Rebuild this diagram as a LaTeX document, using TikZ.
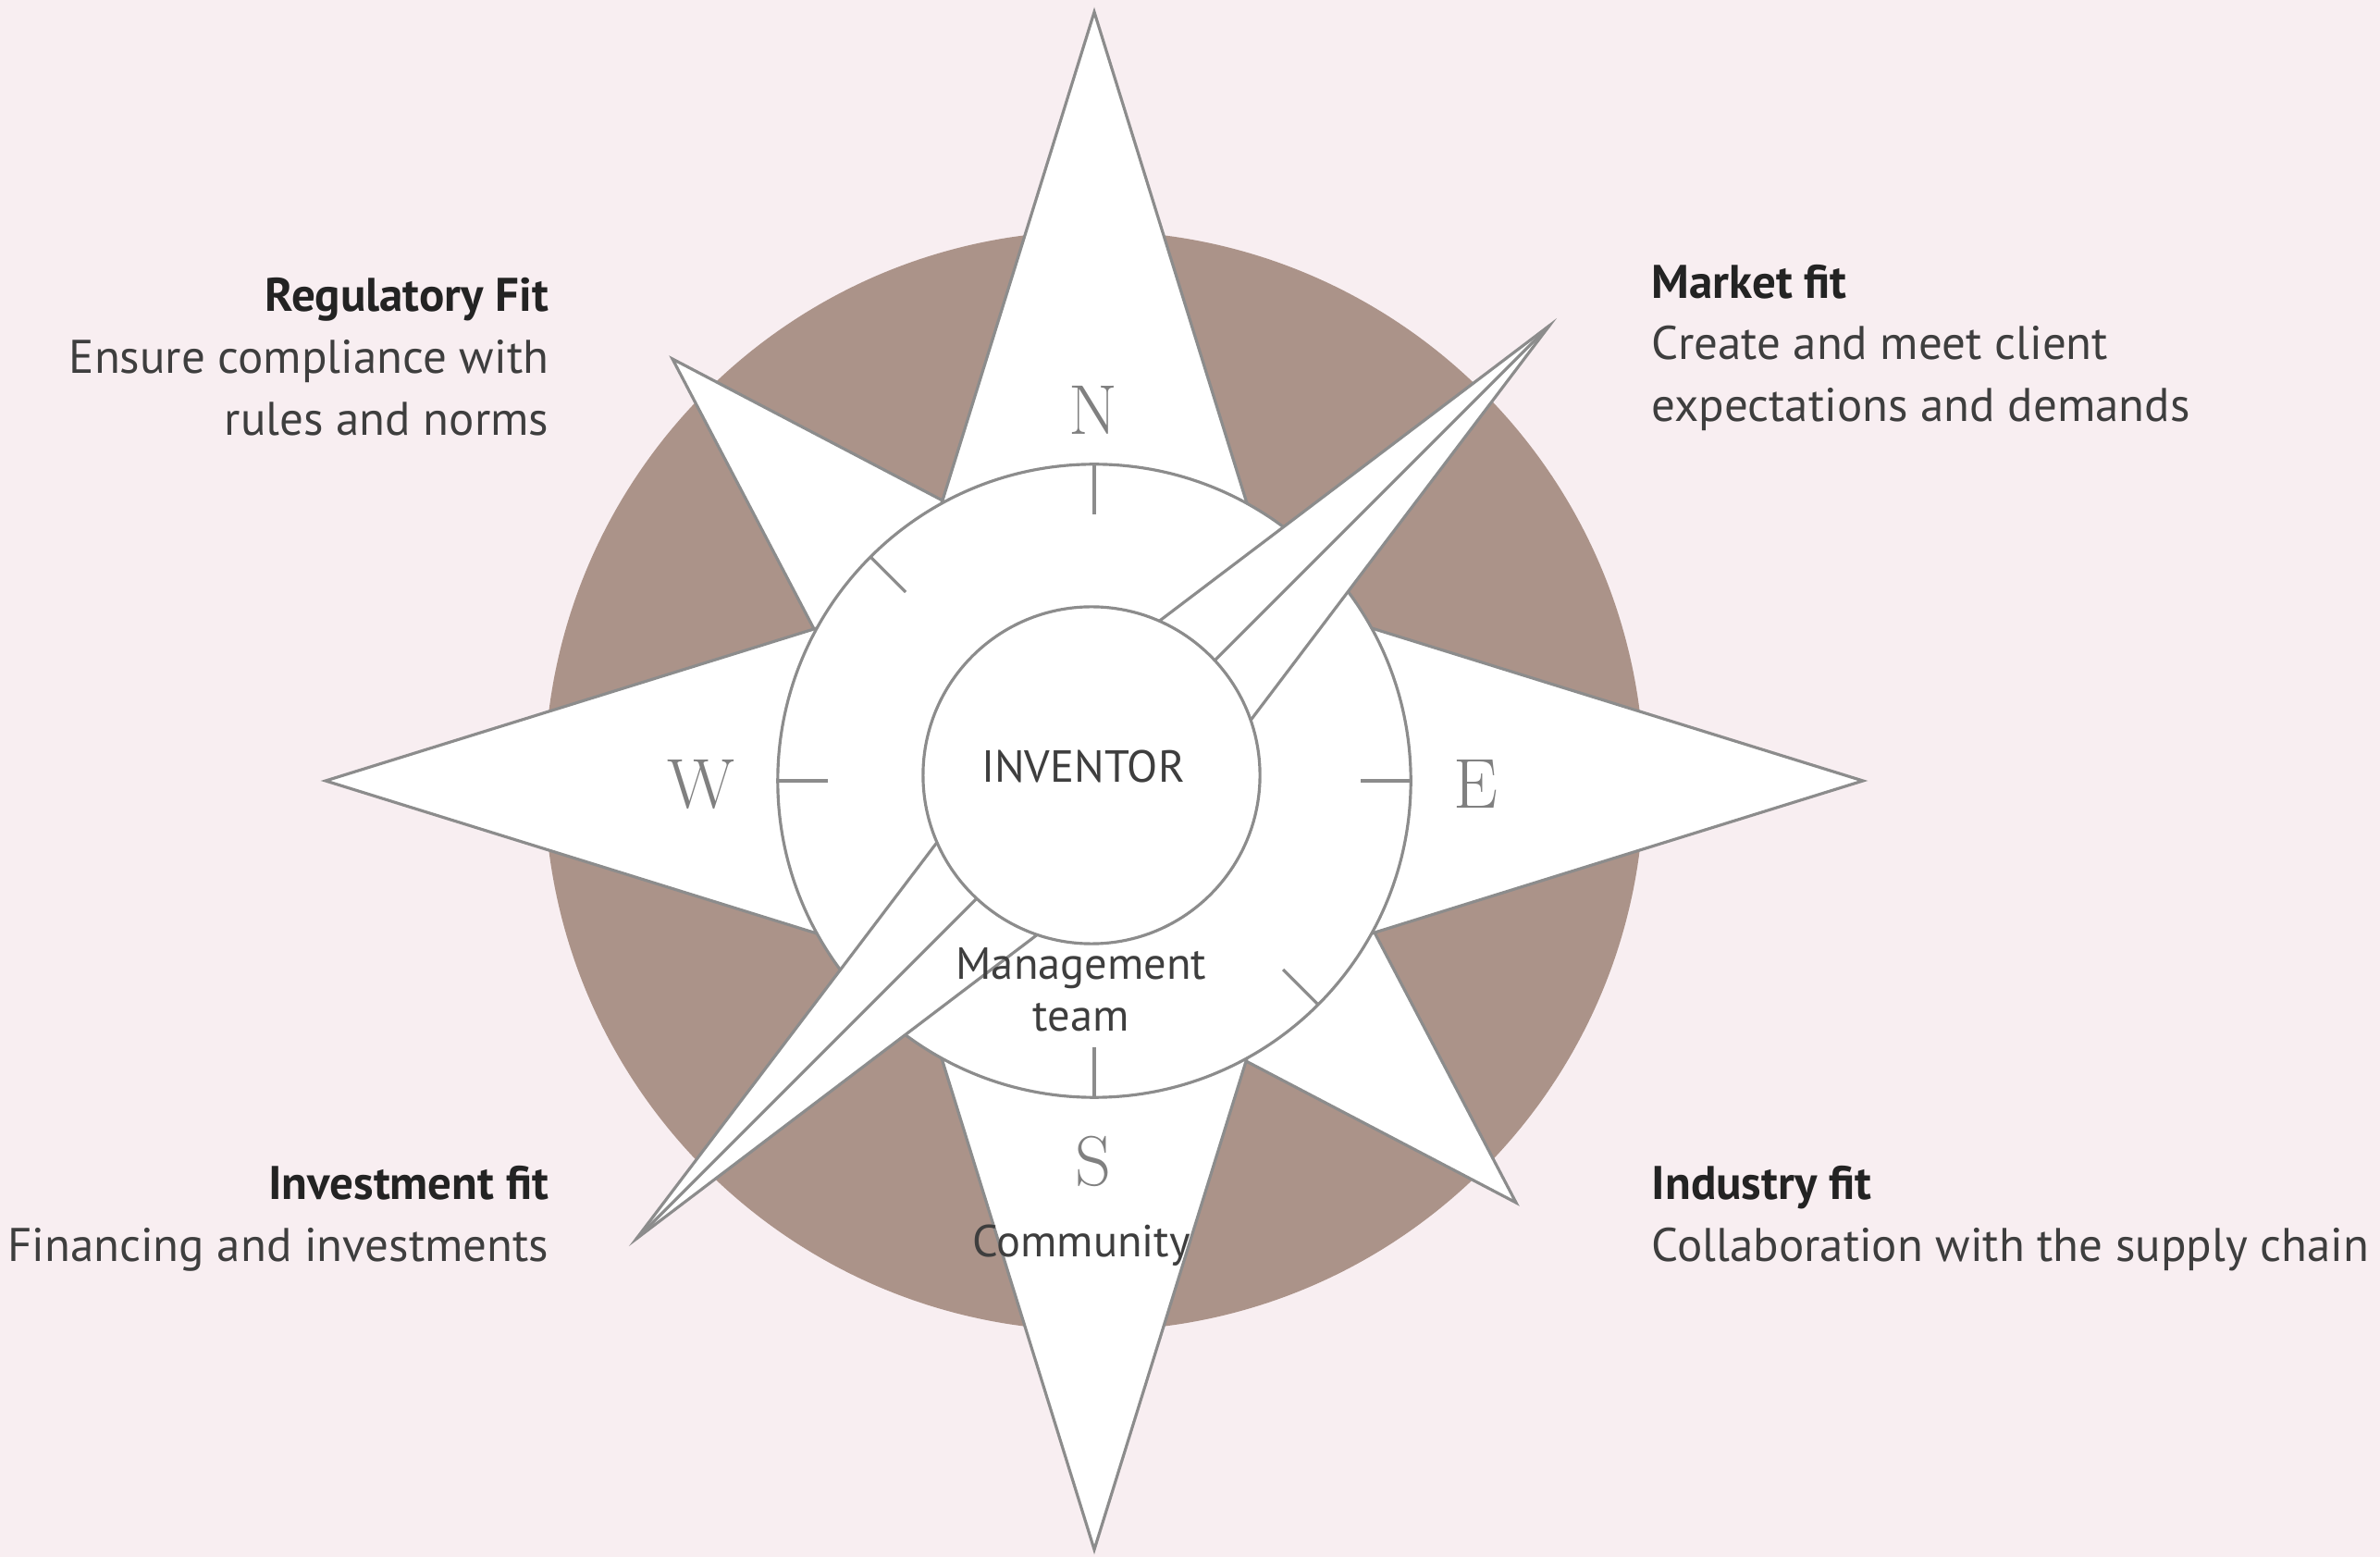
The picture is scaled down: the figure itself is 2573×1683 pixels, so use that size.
\documentclass[tikz,border=0pt]{standalone}
\usepackage{fontspec}
\newfontfamily\labelfont{PT Sans}
\definecolor{paper}{RGB}{248,238,241}
\definecolor{dial}{RGB}{171,147,137}
\definecolor{rim}{RGB}{140,140,140}
\definecolor{ink}{RGB}{62,62,62}
\definecolor{inkdark}{RGB}{35,35,35}
\definecolor{compassletter}{RGB}{128,128,128}

\begin{document}
\begin{tikzpicture}[x=0.01cm,y=-0.01cm,
  face/.style={fill=white,draw=rim,line width=0.9pt,line join=miter},
  ring/.style={fill=white,draw=rim,line width=0.9pt},
  tickmark/.style={draw=rim,line width=0.9pt},
  lab/.style={font=\labelfont\fontsize{14.5}{19}\selectfont,text=ink,inner sep=0pt},
  centrelab/.style={font=\labelfont\fontsize{13.8}{16}\selectfont,text=ink,inner sep=0pt,align=center},
  cardinal/.style={font=\fontsize{21.7}{24}\selectfont,text=compassletter,inner sep=0pt}
]
% page and background
\useasboundingbox (0,0) rectangle (2573,1683);
\fill[paper] (0,0) rectangle (2573,1683);

\begin{scope}[shift={(1183,844)}]
  % brown dial
  \fill[dial] (0,0) circle [radius=5.94cm];

  % short diagonal points
  \draw[face] (-456,-456) -- (0,-217) -- (0,0) -- (-217,0) -- cycle;
  \draw[face] (456,456) -- (0,217) -- (0,0) -- (217,0) -- cycle;

  % long cardinal points
  \draw[face] (0,-831) -- (197,-197) -- (0,0) -- (-197,-197) -- cycle;
  \draw[face] (831,0) -- (197,197) -- (0,0) -- (197,-197) -- cycle;
  \draw[face] (0,831) -- (-197,197) -- (0,0) -- (197,197) -- cycle;
  \draw[face] (-831,0) -- (-197,-197) -- (0,0) -- (-197,197) -- cycle;

  % middle ring
  \draw[ring] (0,0) circle [radius=3.42cm];

  % ticks on the ring
  \draw[tickmark] (0,-342) -- (0,-288);
  \draw[tickmark] (0,342) -- (0,288);
  \draw[tickmark] (342,0) -- (288,0);
  \draw[tickmark] (-342,0) -- (-288,0);
  \draw[tickmark] (-242,-242) -- (-204,-204);
  \draw[tickmark] (242,242) -- (204,204);

  % needle NE--SW
  \draw[face] (492,-492) -- (68,68) -- (-495,495) -- (-68,-68) -- cycle;
  \draw[tickmark] (492,-492) -- (-495,495);

  % inner disc
  \draw[ring] (-3,-6) circle [radius=1.82cm];

  % cardinal letters
  \node[cardinal] (north) at (-1,-401) {N};
  \node[cardinal] (east) at (412,4) {E};
  \node[cardinal] (south) at (-1,411) {S};
  \node[cardinal] (west) at (-425,4) {W};

  % centre labels
  \node[centrelab] (inventor) at (-12,-15) {INVENTOR};
  \node[centrelab] (mgmt) at (-14,226) {Management\\team};
  \node[centrelab] (community) at (-14,502) {Community};
\end{scope}

% side labels
\node[lab,align=right,anchor=east] (regulatory) at (594,386)
  {{\color{inkdark}\bfseries Regulatory Fit}\\Ensure compliance with\\rules and norms};
\node[lab,align=left,anchor=west] (market) at (1785,376)
  {{\color{inkdark}\bfseries Market fit}\\Create and meet client\\expectations and demands};
\node[lab,align=right,anchor=east] (investment) at (594,1317)
  {{\color{inkdark}\bfseries Investment fit}\\Financing and investments};
\node[lab,align=left,anchor=west] (industry) at (1785,1317)
  {{\color{inkdark}\bfseries Industry fit}\\Collaboration with the supply chain};
\end{tikzpicture}
\end{document}
